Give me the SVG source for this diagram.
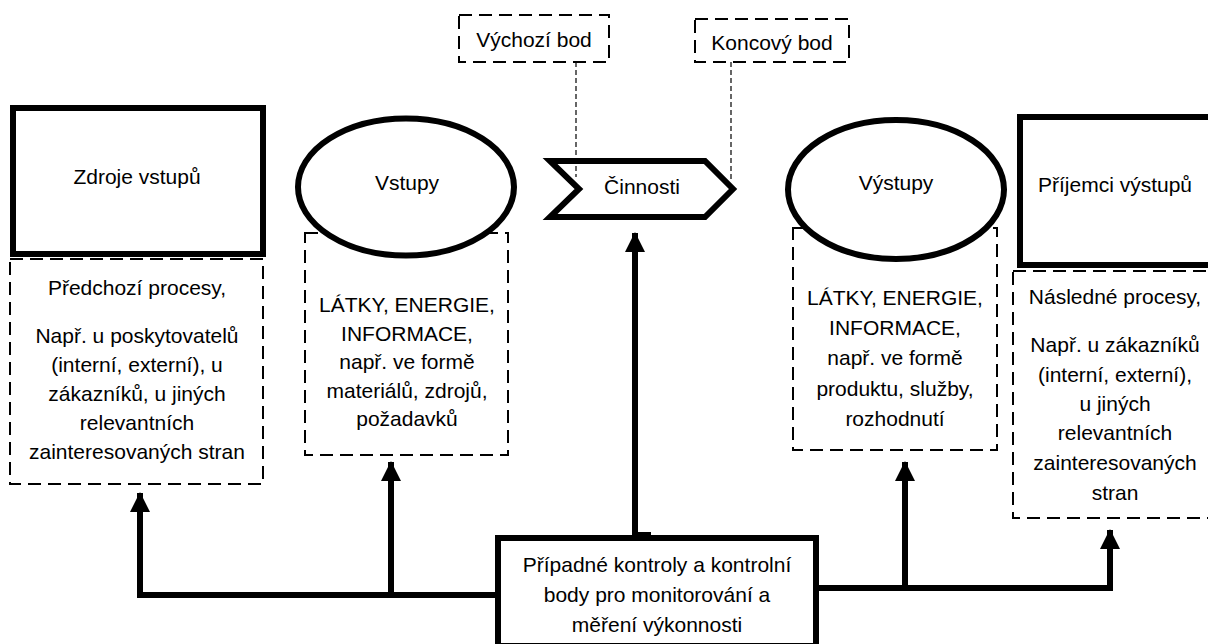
<svg xmlns="http://www.w3.org/2000/svg" width="1208" height="644" viewBox="0 0 1208 644">
  <defs>
    <style>
      text { font-family: "Liberation Sans", Arial, sans-serif; font-size: 21px; fill: #000; text-anchor: middle; }
      .thick { fill: #fff; stroke: #000; stroke-width: 6; stroke-linejoin: miter; }
      .dash { fill: none; stroke: #000; stroke-width: 2; stroke-dasharray: 13 7; }
      .dash-thin { fill: none; stroke: #000; stroke-width: 1.2; stroke-dasharray: 5 3; }
      .conn { fill: none; stroke: #000; stroke-width: 6; stroke-linejoin: miter; }
    </style>
    <marker id="arrow" markerUnits="userSpaceOnUse" markerWidth="20" markerHeight="20" viewBox="0 0 20 20" refX="19" refY="10" orient="auto">
      <path d="M0,0 L20,10 L0,20 Z" fill="#000"/>
    </marker>
  </defs>

  <!-- dashed detail boxes (drawn first so the solid shapes sit on top) -->
  <g id="source-details">
    <rect class="dash" x="10" y="259" width="253" height="225"/>
    <text x="137" y="295">Předchozí procesy,</text>
    <text x="137" y="343">Např. u poskytovatelů</text>
    <text x="137" y="372">(interní, externí), u</text>
    <text x="137" y="401">zákazníků, u jiných</text>
    <text x="137" y="430">relevantních</text>
    <text x="137" y="459">zainteresovaných stran</text>
  </g>

  <g id="input-details">
    <rect class="dash" x="305" y="233" width="203" height="222"/>
    <text x="407" y="312">LÁTKY, ENERGIE,</text>
    <text x="407" y="341">INFORMACE,</text>
    <text x="407" y="369">např. ve formě</text>
    <text x="407" y="398">materiálů, zdrojů,</text>
    <text x="407" y="426">požadavků</text>
  </g>

  <g id="output-details">
    <rect class="dash" x="793" y="228" width="204" height="222"/>
    <text x="895" y="305">LÁTKY, ENERGIE,</text>
    <text x="895" y="335">INFORMACE,</text>
    <text x="895" y="365">např. ve formě</text>
    <text x="895" y="396">produktu, služby,</text>
    <text x="895" y="426">rozhodnutí</text>
  </g>

  <g id="receiver-details">
    <rect class="dash" x="1013" y="271" width="210" height="247"/>
    <text x="1115" y="304">Následné procesy,</text>
    <text x="1115" y="352">Např. u zákazníků</text>
    <text x="1115" y="382">(interní, externí),</text>
    <text x="1115" y="411">u jiných</text>
    <text x="1115" y="440">relevantních</text>
    <text x="1115" y="470">zainteresovaných</text>
    <text x="1115" y="500">stran</text>
  </g>

  <!-- main process elements -->
  <g id="input-sources">
    <rect class="thick" x="13" y="108" width="250" height="146"/>
    <text x="137" y="184">Zdroje vstupů</text>
  </g>

  <g id="inputs">
    <ellipse class="thick" cx="406" cy="187" rx="108" ry="68.5"/>
    <text x="407" y="190">Vstupy</text>
  </g>

  <g id="start-point">
    <rect class="dash" x="459" y="15" width="150" height="47"/>
    <text x="534" y="47">Výchozí bod</text>
  </g>

  <g id="end-point">
    <rect class="dash" x="695" y="19" width="154" height="43"/>
    <text x="772" y="50">Koncový bod</text>
  </g>

  <g id="activities">
    <polygon class="thick" points="550,161 705,161 733,189 705,217 550,217 579,189"/>
    <text x="642" y="194">Činnosti</text>
  </g>

  <g id="outputs">
    <ellipse class="thick" cx="896" cy="189.5" rx="108" ry="69.5"/>
    <text x="896" y="190">Výstupy</text>
  </g>

  <g id="output-receivers">
    <rect class="thick" x="1020" y="117" width="200" height="148"/>
    <text x="1115" y="192">Příjemci výstupů</text>
  </g>

  <g id="controls">
    <rect class="thick" x="498" y="538" width="318" height="108"/>
    <text x="657" y="572">Případné kontroly a kontrolní</text>
    <text x="657" y="602">body pro monitorování a</text>
    <text x="657" y="632">měření výkonnosti</text>
  </g>

  <!-- connectors -->
  <g id="connectors">
    <line class="dash-thin" x1="576" y1="62" x2="576" y2="177"/>
    <line class="dash-thin" x1="731" y1="62" x2="731" y2="182"/>
    <path class="conn" d="M498,595 H140 V493" marker-end="url(#arrow)"/>
    <path class="conn" d="M391,595 V462" marker-end="url(#arrow)"/>
    <path class="conn" d="M635,538 V233" marker-end="url(#arrow)"/>
    <rect x="638" y="532" width="13" height="4" fill="#000"/>
    <path class="conn" d="M816,588 H1110 V530" marker-end="url(#arrow)"/>
    <path class="conn" d="M905,588 V462" marker-end="url(#arrow)"/>
  </g>
</svg>
